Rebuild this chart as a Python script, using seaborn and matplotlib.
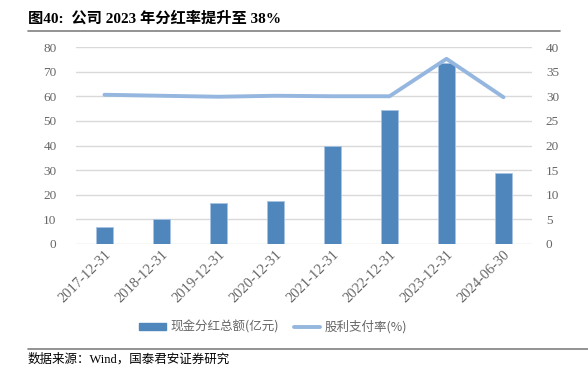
import matplotlib
matplotlib.use("Agg")
import matplotlib.pyplot as plt
import seaborn as sns
import pandas as pd
from matplotlib.patches import Patch
from matplotlib.lines import Line2D

categories = ["2017-12-31", "2018-12-31", "2019-12-31", "2020-12-31",
              "2021-12-31", "2022-12-31", "2023-12-31", "2024-06-30"]
dividend = [7.0, 10.2, 16.7, 17.6, 39.8, 54.6, 73.4, 29.0]
payout = [30.3, 30.1, 29.9, 30.1, 30.0, 30.0, 37.6, 29.8]
left_ticks = [0, 10, 20, 30, 40, 50, 60, 70, 80]
right_ticks = [0, 5, 10, 15, 20, 25, 30, 35, 40]
bar_label = "现金分红总额(亿元)"
line_label = "股利支付率(%)"
title = "图40:  公司 2023 年分红率提升至 38%"
source = "数据来源：Wind，国泰君安证券研究"

sns.set_theme(style="white")
plt.rcParams['font.family'] = ['Liberation Serif', 'Noto Sans CJK SC']

df = pd.DataFrame({"date": categories, "dividend": dividend,
                   "payout": payout, "pos": range(len(categories))})

bar_color = "#4F86BC"
line_color = "#95B6DE"
tick_color = "#666666"

fig = plt.figure(figsize=(5.88, 3.80), dpi=100)
ax = fig.add_axes([76/588, 1-244/380, 456/588, 197/380])

sns.barplot(data=df, x="date", y="dividend", color=bar_color, width=0.31,
            saturation=1, ax=ax, zorder=3, edgecolor="#A9C3E3", linewidth=0.6)
ax.set_ylim(0, 80)
ax.set_yticks(left_ticks)
ax.set_xlim(-0.5, 7.5)
ax.yaxis.grid(True, color="#D9D9D9", linewidth=1.0, zorder=0)
ax.set_axisbelow(True)
for s in ax.spines.values():
    s.set_visible(False)
ax.set_xlabel("")
ax.set_ylabel("")
ax.tick_params(axis="y", length=0, pad=14, labelsize=9.5, labelcolor=tick_color)
ax.tick_params(axis="x", length=0, pad=3, labelsize=10.5, labelcolor=tick_color)
ax.set_xticks(range(len(categories)))
ax.set_xticklabels(categories, rotation=45, ha="right", rotation_mode="anchor")

ax2 = ax.twinx()
sns.lineplot(data=df, x="pos", y="payout", color=line_color, linewidth=2.8,
             ax=ax2, zorder=4)
ax2.set_ylim(0, 40)
ax2.set_yticks(right_ticks)
ax2.set_xlim(-0.5, 7.5)
for s in ax2.spines.values():
    s.set_visible(False)
ax2.set_ylabel("")
ax2.set_xlabel("")
ax2.tick_params(axis="y", length=0, pad=10, labelsize=9.5, labelcolor=tick_color)

handles = [Patch(facecolor=bar_color, edgecolor=bar_color),
           Line2D([0], [0], color=line_color, linewidth=2.8)]
leg = fig.legend(handles, [bar_label, line_label], loc="center",
                 bbox_to_anchor=(273/588, 1-327/380), ncol=2, frameon=False,
                 fontsize=9, handlelength=2.1, handleheight=0.5,
                 columnspacing=1.2, handletextpad=0.35)
for t in leg.get_texts():
    t.set_color(tick_color)
    t.set_family(['Noto Sans CJK SC', 'DejaVu Sans'])

fig.text(28/588, 1-18/380, title, fontsize=11, fontweight="bold",
         va="center", ha="left", color="black",
         family=['Liberation Serif', 'Noto Sans CJK SC'])
fig.add_artist(Line2D([28/588, 560/588], [1-31/380, 1-31/380],
                      color="#808080", linewidth=1.2))
fig.add_artist(Line2D([28/588, 588/588], [1-349/380, 1-349/380],
                      color="#808080", linewidth=1.2))
fig.text(28/588, 1-359/380, source, fontsize=9, va="center", ha="left",
         color="black", family=['Liberation Serif', 'Noto Sans CJK SC'])

fig.savefig("out.png", dpi=100, facecolor="white")
